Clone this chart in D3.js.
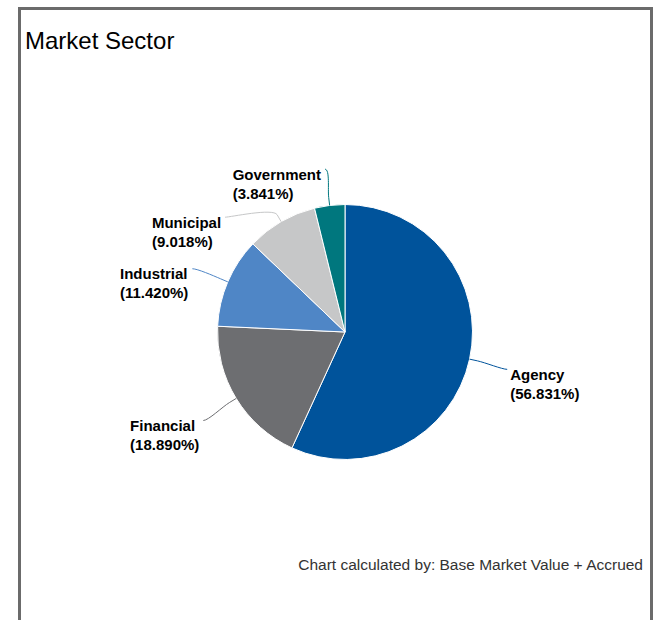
<!DOCTYPE html>
<html>
<head>
<meta charset="utf-8">
<script src="https://cdn.jsdelivr.net/npm/d3@7"></script>
<style>
  body { margin: 0; background: #fff; font-family: "Liberation Sans", Arial, sans-serif; }
  #frame { position: absolute; left: 18px; top: 7px; width: 629px; height: 640px;
           border: 3px solid #6b6b6b; border-bottom: none; }
  svg { position: absolute; left: 0; top: 0; }
</style>
</head>
<body>
<div id="frame"></div>
<svg id="chart" width="653" height="620"></svg>
<script>
// data
const sectors = ["Agency", "Financial", "Industrial", "Municipal", "Government"];
const shares = [56.831, 18.890, 11.420, 9.018, 3.841];
const sectorColors = ["#00539b", "#6d6e71", "#4f86c6", "#c6c7c8", "#00777e"];

const titleText = "Market Sector";
const footnote = "Chart calculated by: Base Market Value + Accrued";

const svg = d3.select("#chart");
const cx = 345, cy = 332, radius = 127.5;
const labelRadius = 166;   // where connectors end
const lineGap = 48;        // min vertical spacing between label anchors

const data = sectors.map((s, i) => ({ name: s, value: shares[i], color: sectorColors[i] }));

const pie = d3.pie().sort(null).value(d => d.value);
const arcs = pie(data);
const arc = d3.arc().innerRadius(0).outerRadius(radius);

const g = svg.append("g").attr("transform", `translate(${cx},${cy})`);

g.selectAll("path.slice")
  .data(arcs)
  .enter()
  .append("path")
  .attr("class", "slice")
  .attr("d", arc)
  .attr("fill", d => d.data.color)
  .attr("stroke", "#fff")
  .attr("stroke-width", 1);

// point on a circle, angle measured clockwise from 12 o'clock
function pt(a, r) { return [r * Math.sin(a), -r * Math.cos(a)]; }

// label anchors, pushed apart on each side
arcs.forEach(d => {
  d.mid = (d.startAngle + d.endAngle) / 2;
  d.side = Math.sin(d.mid) >= 0 ? "right" : "left";
  [d.lx, d.ly] = pt(d.mid, labelRadius);
  d.ly += 2;
});
["left", "right"].forEach(side => {
  const list = arcs.filter(d => d.side === side).sort((a, b) => a.ly - b.ly);
  let prev = -Infinity;
  list.forEach(d => {
    if (d.ly < prev + lineGap) {
      // pushed down: slide along the label circle
      d.ly = prev + lineGap;
      const dx = Math.sqrt(Math.max(0, labelRadius * labelRadius - d.ly * d.ly));
      d.lx = side === "right" ? dx : -dx;
    }
    prev = d.ly;
  });
});

// connectors
g.selectAll("path.connector")
  .data(arcs)
  .enter()
  .append("path")
  .attr("class", "connector")
  .attr("fill", "none")
  .attr("stroke", d => d.data.color)
  .attr("stroke-width", 1)
  .attr("d", d => {
    const touch = pt(d.mid, radius);
    const brk = pt(d.mid, radius + 8);
    const off = d.side === "right" ? -5 : 5;
    return `M${d.lx},${d.ly} C${d.lx + off},${d.ly} ${2 * brk[0] - touch[0]},${2 * brk[1] - touch[1]} ${brk[0]},${brk[1]} L${touch[0]},${touch[1]}`;
  });

// labels
const fmt = d3.format(".3f");
arcs.forEach(d => {
  const lbl = g.append("g");
  const t1 = lbl.append("text").attr("y", d.ly + 10.5).text(d.data.name);
  const t2 = lbl.append("text").attr("y", d.ly + 29.5).text(`(${fmt(d.data.value)}%)`);
  lbl.selectAll("text")
    .attr("font-size", 15)
    .attr("font-weight", "bold")
    .attr("fill", "#000");
  const w = Math.max(t1.node().getComputedTextLength(), t2.node().getComputedTextLength());
  const x0 = d.side === "right" ? d.lx + 3 : d.lx - 4 - w;
  lbl.selectAll("text").attr("x", x0);
});

svg.append("text")
  .attr("x", 25)
  .attr("y", 49)
  .attr("font-size", 24)
  .attr("fill", "#000")
  .text(titleText);

svg.append("text")
  .attr("x", 643)
  .attr("y", 570)
  .attr("text-anchor", "end")
  .attr("font-size", 15.5)
  .attr("fill", "#333")
  .text(footnote);
</script>
</body>
</html>
